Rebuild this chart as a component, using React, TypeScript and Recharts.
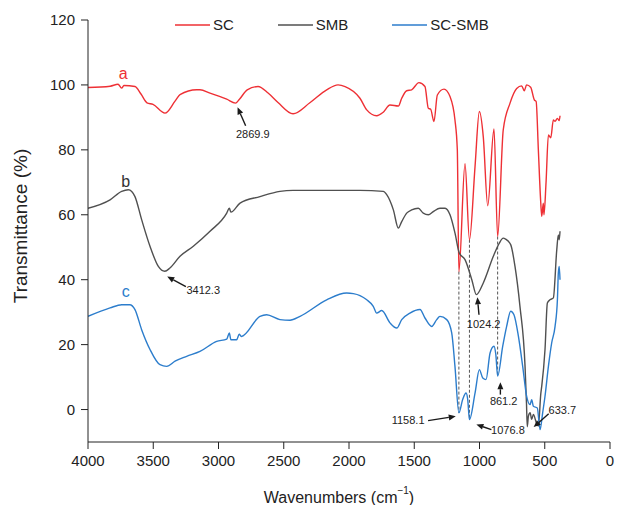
import React from "react";
import { LineChart, Line, XAxis, YAxis, Legend, ReferenceLine, ReferenceDot } from "recharts";

// FTIR spectra, wavenumber (cm-1) vs transmittance (%)
const scSpectrum = [
  { w: 4000, t: 99.2 }, { w: 3830, t: 99.6 }, { w: 3770, t: 100.2 }, { w: 3742, t: 99.0 },
  { w: 3725, t: 99.8 }, { w: 3640, t: 99.5 }, { w: 3594, t: 97.2 }, { w: 3548, t: 94.5 },
  { w: 3502, t: 94.0 }, { w: 3410, t: 91.3 }, { w: 3333, t: 95.0 }, { w: 3295, t: 97.0 },
  { w: 3167, t: 98.5 }, { w: 3142, t: 98.5 }, { w: 3065, t: 97.5 }, { w: 2937, t: 95.6 },
  { w: 2870, t: 94.4 }, { w: 2841, t: 95.5 }, { w: 2780, t: 98.5 }, { w: 2697, t: 99.5 },
  { w: 2620, t: 97.5 }, { w: 2544, t: 94.6 }, { w: 2429, t: 91.1 }, { w: 2300, t: 94.5 },
  { w: 2171, t: 98.5 }, { w: 2084, t: 100.0 }, { w: 2030, t: 99.5 }, { w: 1916, t: 95.9 },
  { w: 1864, t: 92.3 }, { w: 1788, t: 90.5 }, { w: 1740, t: 91.5 }, { w: 1686, t: 93.8 },
  { w: 1622, t: 93.5 }, { w: 1596, t: 95.9 }, { w: 1558, t: 98.2 }, { w: 1520, t: 98.5 },
  { w: 1464, t: 100.7 }, { w: 1418, t: 99.5 }, { w: 1392, t: 92.8 }, { w: 1374, t: 92.5 },
  { w: 1349, t: 88.7 }, { w: 1323, t: 96.9 }, { w: 1272, t: 98.7 }, { w: 1226, t: 96.4 },
  { w: 1188, t: 89.2 }, { w: 1170, t: 80.0 }, { w: 1158, t: 42.5 }, { w: 1111, t: 75.7 },
  { w: 1077, t: 52.3 }, { w: 1034, t: 75.0 }, { w: 1001, t: 91.8 }, { w: 971, t: 84.0 },
  { w: 937, t: 62.8 }, { w: 889, t: 86.4 }, { w: 861, t: 53.3 }, { w: 818, t: 86.2 },
  { w: 766, t: 94.4 }, { w: 715, t: 98.9 }, { w: 677, t: 99.7 }, { w: 657, t: 98.2 },
  { w: 639, t: 100.0 }, { w: 608, t: 99.3 }, { w: 580, t: 95.4 }, { w: 566, t: 94.9 },
  { w: 549, t: 80.0 }, { w: 531, t: 64.0 }, { w: 523, t: 59.5 }, { w: 511, t: 63.6 },
  { w: 506, t: 60.0 }, { w: 490, t: 70.0 }, { w: 472, t: 84.6 }, { w: 454, t: 83.7 },
  { w: 434, t: 89.2 }, { w: 421, t: 88.8 }, { w: 403, t: 89.7 }, { w: 389, t: 89.0 },
  { w: 383, t: 90.5 },
];

const smbSpectrum = [
  { w: 4000, t: 62.0 }, { w: 3831, t: 64.6 }, { w: 3742, t: 67.2 }, { w: 3691, t: 67.7 },
  { w: 3665, t: 67.2 }, { w: 3640, t: 65.6 }, { w: 3589, t: 58.5 }, { w: 3525, t: 50.3 },
  { w: 3461, t: 44.1 }, { w: 3412, t: 42.6 }, { w: 3372, t: 43.6 }, { w: 3295, t: 47.2 },
  { w: 3193, t: 50.3 }, { w: 3065, t: 54.9 }, { w: 2937, t: 60.5 }, { w: 2917, t: 62.0 },
  { w: 2905, t: 60.8 }, { w: 2835, t: 63.6 }, { w: 2682, t: 65.6 }, { w: 2529, t: 67.2 },
  { w: 2429, t: 67.5 }, { w: 2171, t: 67.5 }, { w: 1916, t: 67.5 }, { w: 1737, t: 67.2 },
  { w: 1711, t: 66.2 }, { w: 1660, t: 61.5 }, { w: 1622, t: 55.9 }, { w: 1596, t: 57.9 },
  { w: 1558, t: 60.5 }, { w: 1520, t: 61.5 }, { w: 1469, t: 62.0 }, { w: 1431, t: 60.5 },
  { w: 1392, t: 60.0 }, { w: 1354, t: 61.0 }, { w: 1303, t: 62.0 }, { w: 1264, t: 62.0 },
  { w: 1226, t: 60.0 }, { w: 1188, t: 54.4 }, { w: 1155, t: 48.2 }, { w: 1111, t: 46.2 },
  { w: 1059, t: 40.0 }, { w: 1024, t: 35.4 }, { w: 971, t: 39.0 }, { w: 894, t: 47.2 },
  { w: 848, t: 51.3 }, { w: 818, t: 52.8 }, { w: 800, t: 52.5 }, { w: 761, t: 50.8 },
  { w: 728, t: 44.1 }, { w: 690, t: 31.8 }, { w: 651, t: 13.3 }, { w: 640, t: 2.0 },
  { w: 634, t: -5.3 }, { w: 625, t: -2.0 }, { w: 612, t: -1.0 }, { w: 600, t: -3.0 },
  { w: 587, t: -1.5 }, { w: 565, t: -4.0 }, { w: 549, t: -5.1 }, { w: 530, t: 5.0 },
  { w: 523, t: 7.2 }, { w: 498, t: 18.5 }, { w: 480, t: 32.8 }, { w: 460, t: 33.8 },
  { w: 434, t: 34.4 }, { w: 408, t: 49.2 }, { w: 396, t: 53.8 }, { w: 389, t: 52.3 },
  { w: 383, t: 54.9 },
];

const scSmbSpectrum = [
  { w: 4000, t: 28.7 }, { w: 3831, t: 31.3 }, { w: 3742, t: 32.3 }, { w: 3680, t: 32.3 },
  { w: 3640, t: 30.8 }, { w: 3589, t: 24.6 }, { w: 3525, t: 18.5 }, { w: 3448, t: 13.8 },
  { w: 3397, t: 13.3 }, { w: 3333, t: 14.9 }, { w: 3244, t: 16.4 }, { w: 3142, t: 17.9 },
  { w: 3014, t: 21.0 }, { w: 2937, t: 21.7 }, { w: 2917, t: 23.6 }, { w: 2905, t: 21.5 },
  { w: 2861, t: 21.5 }, { w: 2841, t: 23.2 }, { w: 2825, t: 22.5 }, { w: 2682, t: 28.7 },
  { w: 2631, t: 29.2 }, { w: 2529, t: 27.7 }, { w: 2452, t: 27.5 }, { w: 2375, t: 28.7 },
  { w: 2171, t: 33.8 }, { w: 2018, t: 35.9 }, { w: 1967, t: 35.7 }, { w: 1916, t: 35.1 },
  { w: 1864, t: 33.8 }, { w: 1814, t: 31.8 }, { w: 1788, t: 29.7 }, { w: 1749, t: 30.5 },
  { w: 1686, t: 26.7 }, { w: 1634, t: 25.1 }, { w: 1596, t: 27.7 }, { w: 1533, t: 29.7 },
  { w: 1456, t: 30.8 }, { w: 1418, t: 28.2 }, { w: 1366, t: 25.6 }, { w: 1328, t: 27.7 },
  { w: 1303, t: 28.7 }, { w: 1251, t: 27.7 }, { w: 1213, t: 23.6 }, { w: 1188, t: 13.3 },
  { w: 1158, t: -1.0 }, { w: 1129, t: 3.1 }, { w: 1103, t: 5.1 }, { w: 1090, t: 3.0 },
  { w: 1077, t: -3.1 }, { w: 1034, t: 5.1 }, { w: 1001, t: 12.3 }, { w: 975, t: 9.7 },
  { w: 950, t: 9.2 }, { w: 919, t: 17.4 }, { w: 889, t: 19.5 }, { w: 875, t: 17.0 },
  { w: 861, t: 10.3 }, { w: 822, t: 19.5 }, { w: 792, t: 25.6 }, { w: 761, t: 30.3 },
  { w: 736, t: 29.2 }, { w: 702, t: 22.6 }, { w: 669, t: 13.3 }, { w: 639, t: 4.1 },
  { w: 613, t: 1.5 }, { w: 600, t: 3.0 }, { w: 587, t: 1.0 }, { w: 557, t: 0.5 },
  { w: 536, t: -6.2 }, { w: 516, t: -1.0 }, { w: 498, t: 4.1 }, { w: 472, t: 13.3 },
  { w: 447, t: 20.5 }, { w: 421, t: 25.6 }, { w: 403, t: 33.8 }, { w: 396, t: 42.0 },
  { w: 389, t: 44.1 }, { w: 383, t: 40.0 },
];

const xTicks = [0, 500, 1000, 1500, 2000, 2500, 3000, 3500, 4000];
const yTicks = [0, 20, 40, 60, 80, 100, 120];

const seriesNames = ["SC", "SMB", "SC-SMB"];
const seriesColors = ["#ee3035", "#505050", "#2c7dcc"];

// curve letters
const curveTags = [
  { text: "a", w: 3730, t: 103.4, color: "#ee3035" },
  { text: "b", w: 3711, t: 70.2, color: "#333333" },
  { text: "c", w: 3711, t: 36.4, color: "#2c7dcc" },
];

// peak annotations
const peakTexts = [
  { text: "2869.9", w: 2737, t: 84.9 },
  { text: "3412.3", w: 3117, t: 36.7 },
  { text: "1024.2", w: 968, t: 26.5 },
  { text: "861.2", w: 815, t: 2.6 },
  { text: "1158.1", w: 1547, t: -3.3 },
  { text: "1076.8", w: 782, t: -6.2 },
  { text: "633.7", w: 365, t: 0 },
];

const peakArrows = [
  { w1: 2792, t1: 87.4, w2: 2854, t2: 93.1 },
  { w1: 3250, t1: 37.9, w2: 3393, t2: 41.0 },
  { w1: 1004, t1: 29.2, w2: 1016, t2: 34.6 },
  { w1: 840, t1: 4.6, w2: 840, t2: 8.4 },
  { w1: 1394, t1: -3.4, w2: 1182, t2: -2.1 },
  { w1: 909, t1: -6.2, w2: 1024, t2: -4.6 },
  { w1: 470, t1: -1.3, w2: 585, t2: -5.4 },
];

const guideLines = [
  { w: 1158, top: 42.5, bottom: -1.0 },
  { w: 1077, top: 52.3, bottom: -3.1 },
  { w: 861, top: 53.3, bottom: 10.3 },
];

const FONT = '"Liberation Sans", Arial, Helvetica, sans-serif';

function Arrow(props: any) {
  const { x1, y1, x2, y2 } = props;
  const ang = Math.atan2(y2 - y1, x2 - x1);
  const len = 7;
  const hw = 3;
  const bx = x2 - len * Math.cos(ang);
  const by = y2 - len * Math.sin(ang);
  const px = -Math.sin(ang) * hw;
  const py = Math.cos(ang) * hw;
  return (
    <g>
      <line x1={x1} y1={y1} x2={bx} y2={by} stroke="#1a1a1a" strokeWidth={1.4} />
      <polygon points={`${x2},${y2} ${bx + px},${by + py} ${bx - px},${by - py}`} fill="#1a1a1a" />
    </g>
  );
}

function LegendBox() {
  return (
    <div style={{ display: "flex", alignItems: "center", fontFamily: FONT, fontSize: 15, color: "#222", lineHeight: "20px" }}>
      {seriesNames.map((n, i) => (
        <div key={n} style={{ display: "flex", alignItems: "center", marginRight: 44 }}>
          <svg width={35} height={4} style={{ marginRight: 3 }}>
            <line x1={0} y1={2} x2={35} y2={2} stroke={seriesColors[i]} strokeWidth={1.5} />
          </svg>
          <span>{n}</span>
        </div>
      ))}
    </div>
  );
}

export default function App() {
  return (
    <div style={{ position: "absolute", left: 0, top: 0, width: 618, height: 505, background: "#fff", fontFamily: FONT }}>
      <LineChart width={618} height={505} margin={{ top: 20, right: 8, bottom: 0, left: 0 }}>
        <XAxis
          type="number"
          dataKey="w"
          domain={[0, 4000]}
          ticks={xTicks}
          reversed
          allowDataOverflow
          height={63}
          tickSize={7}
          tickMargin={6}
          stroke="#222"
          tick={{ fill: "#222", fontSize: 15, fontFamily: FONT }}
          label={{
            content: () => (
              <text x={339} y={497} textAnchor="middle" dominantBaseline="central" fill="#222" fontSize={16} fontFamily={FONT}>
                Wavenumbers (cm<tspan fontSize={10} dy={-7}>−1</tspan><tspan dy={7}>)</tspan>
              </text>
            ),
          }}
        />
        <YAxis
          type="number"
          dataKey="t"
          domain={[-10, 120]}
          ticks={yTicks}
          allowDataOverflow
          width={88}
          tickSize={7}
          tickMargin={6}
          stroke="#222"
          tick={{ fill: "#222", fontSize: 15, fontFamily: FONT }}
          label={{
            content: () => (
              <text x={20} y={226} transform="rotate(-90 20 226)" textAnchor="middle" dominantBaseline="central" fill="#222" fontSize={19} fontFamily={FONT}>
                Transmittance (%)
              </text>
            ),
          }}
        />
        <Legend
          verticalAlign="middle"
          align="center"
          layout="horizontal"
          wrapperStyle={{ top: 15, left: 175, width: 400 }}
          content={() => <LegendBox />}
        />
        {guideLines.map((g, i) => (
          <ReferenceLine
            key={"g" + i}
            segment={[{ x: g.w, y: g.top }, { x: g.w, y: g.bottom }]}
            stroke="#555"
            strokeWidth={1}
            strokeDasharray="3 2"
            ifOverflow="visible"
          />
        ))}
        <Line data={scSpectrum} type="monotone" dataKey="t" name="SC" stroke={seriesColors[0]} strokeWidth={1.4} dot={false} isAnimationActive={false} />
        <Line data={smbSpectrum} type="monotone" dataKey="t" name="SMB" stroke={seriesColors[1]} strokeWidth={1.4} dot={false} isAnimationActive={false} />
        <Line data={scSmbSpectrum} type="monotone" dataKey="t" name="SC-SMB" stroke={seriesColors[2]} strokeWidth={1.4} dot={false} isAnimationActive={false} />
        {peakArrows.map((a, i) => (
          <ReferenceLine
            key={"a" + i}
            segment={[{ x: a.w1, y: a.t1 }, { x: a.w2, y: a.t2 }]}
            ifOverflow="visible"
            shape={(p: any) => <Arrow {...p} />}
          />
        ))}
        {peakTexts.map((p, i) => (
          <ReferenceDot
            key={"p" + i}
            x={p.w}
            y={p.t}
            r={0}
            ifOverflow="visible"
            shape={(s: any) => (
              <text x={s.cx} y={s.cy} textAnchor="middle" dominantBaseline="central" fill="#222" fontSize={11} fontFamily={FONT}>
                {p.text}
              </text>
            )}
          />
        ))}
        {curveTags.map((c, i) => (
          <ReferenceDot
            key={"c" + i}
            x={c.w}
            y={c.t}
            r={0}
            ifOverflow="visible"
            shape={(s: any) => (
              <text x={s.cx} y={s.cy} textAnchor="middle" dominantBaseline="central" fill={c.color} fontSize={16} fontFamily={FONT}>
                {c.text}
              </text>
            )}
          />
        ))}
      </LineChart>
    </div>
  );
}
